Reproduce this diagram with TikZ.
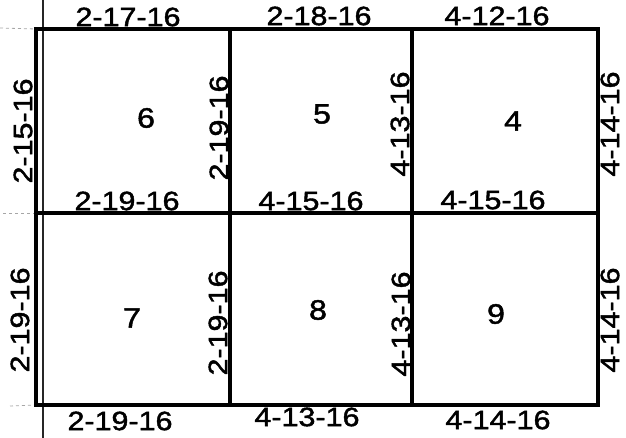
\documentclass[tikz,border=0pt]{standalone}
\usepackage{fontspec}
\newfontfamily\hand[FakeStretch=1.15,FakeBold=1.6]{Liberation Sans}
\begin{document}
\begin{tikzpicture}[x=1pt,y=-1pt,
  grid/.style={line width=4.4pt,line cap=rect},
  faint/.style={line width=1.3pt,black!85},
  scan/.style={line width=0.8pt,black!35,dashed},
  lab/.style={inner sep=0pt,font=\hand\fontsize{26.5}{26.5}\selectfont},
  vlab/.style={lab,rotate=90},
  num/.style={inner sep=0pt,font=\hand\fontsize{28}{28}\selectfont}]
\useasboundingbox (0,0) rectangle (626,438);
% corner coordinates
\coordinate (tl) at (36,29);
\coordinate (tr) at (598,29);
\coordinate (bl) at (36,405);
\coordinate (br) at (598,405);
\coordinate (ml) at (36,213);
\coordinate (mr) at (598,213);
\coordinate (v1t) at (230,29);
\coordinate (v1b) at (230,405);
\coordinate (v2t) at (412,29);
\coordinate (v2b) at (412,405);
% thin scan lines
\draw[faint] (43,0) -- (43,438);
\draw[scan] (0,28) -- (tl);
\draw[scan] (3,213) -- (ml);
\draw[scan] (10,406) -- (bl);
% grid
\draw[grid] (tl) rectangle (br);
\draw[grid] (ml) -- (mr);
\draw[grid] (v1t) -- (v1b);
\draw[grid] (v2t) -- (v2b);
% cell numbers
\node[num] (c6) at (146,118) {6};
\node[num] (c5) at (322,114) {5};
\node[num] (c4) at (513,121) {4};
\node[num] (c7) at (132,318) {7};
\node[num] (c8) at (318,310) {8};
\node[num] (c9) at (496,314) {9};
% top row dates
\node[lab] (t1) at (128,17) {2-17-16};
\node[lab] (t2) at (319,16) {2-18-16};
\node[lab] (t3) at (497,16) {4-12-16};
\node[vlab] (l1) at (23,131) {2-15-16};
\node[vlab] (l2) at (219,128) {2-19-16};
\node[vlab] (l3) at (400,124) {4-13-16};
\node[vlab] (l4) at (610,124) {4-14-16};
\node[lab] (m1) at (127,201) {2-19-16};
\node[lab] (m2) at (311,201) {4-15-16};
\node[lab] (m3) at (493,200) {4-15-16};
% bottom row dates
\node[vlab] (k1) at (20,320) {2-19-16};
\node[vlab] (k2) at (218,323) {2-19-16};
\node[vlab] (k3) at (401,324) {4-13-16};
\node[vlab] (k4) at (610,320) {4-14-16};
\node[lab] (b1) at (120,421) {2-19-16};
\node[lab] (b2) at (307,417) {4-13-16};
\node[lab] (b3) at (498,420) {4-14-16};
\end{tikzpicture}
\end{document}
